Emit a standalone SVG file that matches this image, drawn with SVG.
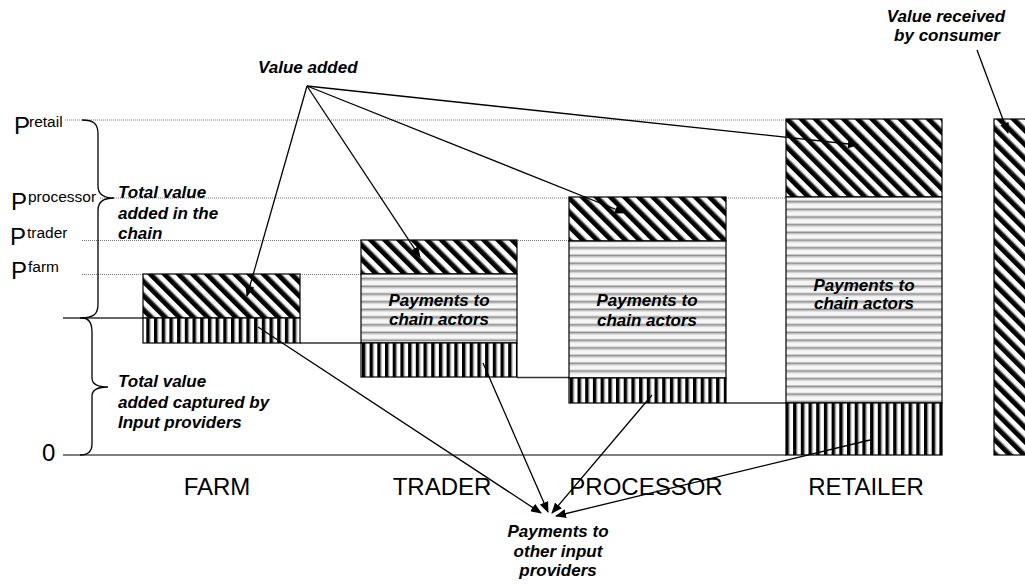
<svg xmlns="http://www.w3.org/2000/svg" width="1025" height="584" viewBox="0 0 1025 584">
  <style>
    .lbl { font-family: "Liberation Sans", Arial, sans-serif; fill: #000; }
    .note { font-family: "Liberation Sans", Arial, sans-serif; font-size: 17px; font-weight: bold; font-style: italic; fill: #000; }
    .cat { font-family: "Liberation Sans", Arial, sans-serif; font-size: 24px; fill: #000; }
    .big { font-size: 24px; }
    .sup { font-size: 15.5px; }
    .dot { stroke: #777; stroke-width: 1; stroke-dasharray: 1 1; fill: none; }
    .step { stroke: #333; stroke-width: 1.5; fill: none; }
    .edge { stroke: #000; stroke-width: 1.2; }
    .brace { stroke: #000; stroke-width: 1.3; fill: none; }
    .arr { stroke: #000; stroke-width: 1.3; fill: none; marker-end: url(#head); }
  </style>
  <defs>
    <!-- value added: black diagonal hatching -->
    <pattern id="diag" width="10" height="10" patternUnits="userSpaceOnUse" patternTransform="rotate(-45)">
      <rect width="10" height="10" fill="#fff"/>
      <rect x="0" y="0" width="4.8" height="10" fill="#000"/>
      <rect x="4.8" y="0" width="0.8" height="10" fill="#888"/>
    </pattern>
    <!-- payments to other input providers: vertical bars -->
    <pattern id="vert" width="7.7" height="10" patternUnits="userSpaceOnUse">
      <rect width="7.7" height="10" fill="#fff"/>
      <rect x="0" y="0" width="3.4" height="10" fill="#000"/>
      <rect x="3.4" y="0" width="0.8" height="10" fill="#777"/>
    </pattern>
    <!-- payments to chain actors: grey horizontal rules -->
    <pattern id="horiz" width="10" height="7.7" patternUnits="userSpaceOnUse">
      <rect width="10" height="7.7" fill="#f6f6f6"/>
      <rect x="0" y="0" width="10" height="1" fill="#c4c4c4"/>
      <rect x="0" y="1" width="10" height="1.4" fill="#8a8a8a"/>
      <rect x="0" y="2.4" width="10" height="1" fill="#c4c4c4"/>
    </pattern>
    <marker id="head" markerWidth="11" markerHeight="9" refX="10" refY="4.5" orient="auto" markerUnits="userSpaceOnUse">
      <path d="M0,0 L11,4.5 L0,9 Z" fill="#000"/>
    </marker>
  </defs>

  <rect width="1025" height="584" fill="#fff"/>

  <!-- price levels -->
  <g id="price-levels">
    <line class="dot" x1="65" y1="120" x2="786" y2="120"/>
    <line class="dot" x1="100" y1="198" x2="786" y2="198"/>
    <line class="dot" x1="82" y1="240.5" x2="569" y2="240.5"/>
    <line class="dot" x1="82" y1="274.5" x2="361" y2="274.5"/>
    <text class="lbl big" x="14" y="134">P</text><text class="lbl sup" x="29" y="127">retail</text>
    <text class="lbl big" x="11" y="210">P</text><text class="lbl sup" x="28" y="202">processor</text>
    <text class="lbl big" x="10" y="245">P</text><text class="lbl sup" x="27" y="238">trader</text>
    <text class="lbl big" x="11" y="279">P</text><text class="lbl sup" x="28" y="272">farm</text>
    <text class="lbl big" x="42" y="461">0</text>
  </g>

  <!-- axis and step lines -->
  <g id="axis">
    <line class="edge" x1="63" y1="455" x2="786" y2="455" stroke-width="1.5"/>
    <line class="step" x1="63" y1="318" x2="143" y2="318"/>
    <line class="step" x1="300" y1="343" x2="361" y2="343"/>
    <line class="step" x1="517" y1="377.5" x2="569" y2="377.5"/>
    <line class="step" x1="726" y1="403" x2="786" y2="403"/>
  </g>

  <!-- braces -->
  <g id="brace-chain">
    <path class="brace" d="M82,120 C94,120 98,124 98,134 L98,186 C98,194 104,198 114,198 C104,198 98,202 98,210 L98,304 C98,314 94,318 80,318"/>
    <text class="note" x="118" y="198">Total value</text>
    <text class="note" x="118" y="219">added in the</text>
    <text class="note" x="118" y="239">chain</text>
  </g>
  <g id="brace-input">
    <path class="brace" d="M82,318 C88,318 92,322 92,332 L92,378 C92,384 98,387 108,387 C98,387 92,390 92,396 L92,444 C92,452 88,455 80,455"/>
    <text class="note" x="118" y="387">Total value</text>
    <text class="note" x="118" y="408">added captured by</text>
    <text class="note" x="118" y="428">Input providers</text>
  </g>

  <!-- bars -->
  <g id="farm">
    <rect x="143" y="274" width="157" height="44" fill="url(#diag)" class="edge"/>
    <rect x="143" y="318" width="157" height="25" fill="url(#vert)" class="edge"/>
    <text class="cat" x="217" y="495" text-anchor="middle">FARM</text>
  </g>
  <g id="trader">
    <rect x="361" y="240" width="156" height="34" fill="url(#diag)" class="edge"/>
    <rect x="361" y="274" width="156" height="69" fill="url(#horiz)" class="edge"/>
    <rect x="361" y="343" width="156" height="34" fill="url(#vert)" class="edge"/>
    <text class="note" x="439" y="306" text-anchor="middle">Payments to</text>
    <text class="note" x="439" y="325" text-anchor="middle">chain actors</text>
    <text class="cat" x="442" y="495" text-anchor="middle">TRADER</text>
  </g>
  <g id="processor">
    <rect x="569" y="197" width="157" height="44" fill="url(#diag)" class="edge"/>
    <rect x="569" y="241" width="157" height="137" fill="url(#horiz)" class="edge"/>
    <rect x="569" y="378" width="157" height="25" fill="url(#vert)" class="edge"/>
    <text class="note" x="647" y="306" text-anchor="middle">Payments to</text>
    <text class="note" x="647" y="326" text-anchor="middle">chain actors</text>
    <text class="cat" x="646" y="495" text-anchor="middle">PROCESSOR</text>
  </g>
  <g id="retailer">
    <rect x="786" y="119" width="156" height="78" fill="url(#diag)" class="edge"/>
    <rect x="786" y="197" width="156" height="206" fill="url(#horiz)" class="edge"/>
    <rect x="786" y="403" width="156" height="52" fill="url(#vert)" class="edge"/>
    <text class="note" x="864" y="291" text-anchor="middle">Payments to</text>
    <text class="note" x="864" y="309" text-anchor="middle">chain actors</text>
    <text class="cat" x="866" y="495" text-anchor="middle">RETAILER</text>
  </g>
  <g id="consumer">
    <rect x="994" y="119" width="40" height="336" fill="url(#diag)" class="edge"/>
  </g>

  <!-- callout labels -->
  <g id="label-value-added">
    <text class="note" x="258" y="73">Value added</text>
  </g>
  <g id="label-consumer">
    <text class="note" x="946" y="22" text-anchor="middle">Value received</text>
    <text class="note" x="947" y="41" text-anchor="middle">by consumer</text>
  </g>
  <g id="label-input-providers">
    <text class="note" x="558" y="537" text-anchor="middle">Payments to</text>
    <text class="note" x="558" y="557" text-anchor="middle">other input</text>
    <text class="note" x="558" y="576" text-anchor="middle">providers</text>
  </g>

  <!-- connectors -->
  <g id="connectors">
    <line class="arr" x1="307" y1="86" x2="247" y2="296"/>
    <line class="arr" x1="307" y1="86" x2="420" y2="257"/>
    <line class="arr" x1="307" y1="86" x2="625" y2="213"/>
    <line class="arr" x1="307" y1="86" x2="858" y2="145"/>
    <line class="arr" x1="977" y1="50" x2="1008" y2="133"/>
    <line class="arr" x1="258" y1="327" x2="541" y2="513"/>
    <line class="arr" x1="483" y1="363" x2="548" y2="512"/>
    <line class="arr" x1="652" y1="395" x2="552" y2="513"/>
    <line class="arr" x1="870" y1="440" x2="556" y2="516"/>
  </g>
</svg>
